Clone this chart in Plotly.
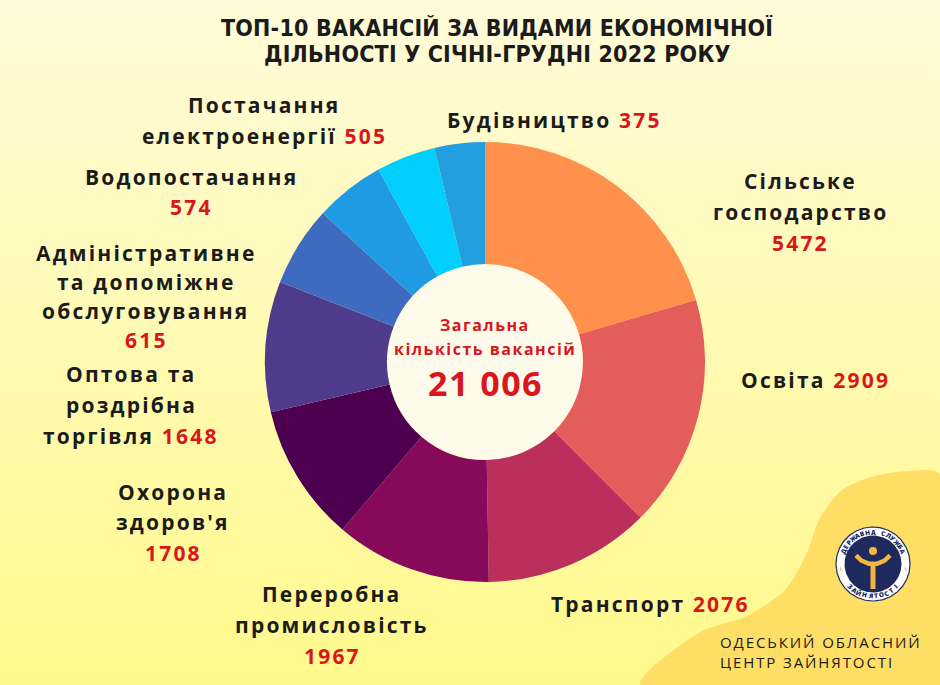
import numpy as np
import plotly.graph_objects as go

# ---------------- data ----------------
categories = [
    "Сільське господарство", "Освіта", "Транспорт", "Переробна промисловість",
    "Охорона здоров'я", "Оптова та роздрібна торгівля",
    "Адміністративне та допоміжне обслуговування", "Водопостачання",
    "Постачання електроенергії", "Будівництво",
]
vacancies = [5472, 2909, 2076, 1967, 1708, 1648, 615, 574, 505, 375]
# arc sizes of the slices as drawn in the picture (degrees)
slice_arcs = [73.6, 61.4, 44.0, 41.4, 36.4, 34.5, 21.2, 18.5, 15.7, 13.3]
label_lines = [
    ["Сільське", "господарство", "{v}"],
    ["Освіта {v}"],
    ["Транспорт {v}"],
    ["Переробна", "промисловість", "{v}"],
    ["Охорона", "здоров'я", "{v}"],
    ["Оптова та", "роздрібна", "торгівля {v}"],
    ["Адміністративне", "та допоміжне", "обслуговування", "{v}"],
    ["Водопостачання", "{v}"],
    ["Постачання", "електроенергії {v}"],
    ["Будівництво {v}"],
]
total_label = ["Загальна", "кількість вакансій"]
total_value = "21 006"
title_lines = ["ТОП-10 ВАКАНСІЙ ЗА ВИДАМИ ЕКОНОМІЧНОЇ", "ДІЛЬНОСТІ У СІЧНІ-ГРУДНІ 2022 РОКУ"]
org_lines = ["ОДЕСЬКИЙ ОБЛАСНИЙ", "ЦЕНТР ЗАЙНЯТОСТІ"]
logo_top = "ДЕРЖАВНА СЛУЖБА"
logo_bottom = "ЗАЙНЯТОСТІ"

# ---------------- style / layout ----------------
W, H = 940, 685
CX, CY, R = 485, 362, 220
HOLE_R = 98
slice_colors = ["#FF914D", "#E35D5B", "#BA2F5C", "#870A5A", "#4C004F",
                "#4E3B8B", "#3E6BC0", "#1F9BE3", "#00CFFE", "#229FDF"]
RED = "#D8161C"
INK = "#1B1B1B"
NAVY = "#1E2A5E"
GOLD = "#F4B63F"
LABEL_FONT = "Open Sans"
TITLE_FONT = "Liberation Sans Narrow, DejaVu Sans Condensed, Arial Narrow"
# (x centre, y of first line, line pitch) per label
label_pos = [
    (800, 180, 31), (815, 380, 30), (650, 604, 30), (332, 593, 31),
    (173, 492, 30.5), (131, 373, 31), (146, 252, 29), (191, 177, 30),
    (264, 104, 31), (554, 120, 30),
]

fig = go.Figure()

# background gradient
fig.add_trace(go.Scatter(
    x=[0, W, W, 0, 0], y=[0, 0, H, H, 0], mode="lines", fill="toself",
    line=dict(width=0), hoverinfo="skip", showlegend=False,
    fillgradient=dict(type="vertical", colorscale=[[0, "#FFF98C"], [1, "#FFFBD9"]]),
))
# decorative blob bottom-right
bx = [640, 700, 745, 785, 806, 820, 842, 875, 910, 940, 940, 640]
by = [685, 632, 617, 590, 555, 518, 490, 476, 471, 474, 685, 685]
fig.add_trace(go.Scatter(
    x=bx, y=by, mode="lines", fill="toself", line=dict(width=0, shape="spline", smoothing=0.8),
    fillcolor="#FFDE66", hoverinfo="skip", showlegend=False,
))
# centre disc
t = np.linspace(0, 2 * np.pi, 200)
fig.add_trace(go.Scatter(
    x=CX + HOLE_R * np.cos(t), y=CY + HOLE_R * np.sin(t), mode="lines", fill="toself",
    line=dict(width=0), fillcolor="#FFFBEA", hoverinfo="skip", showlegend=False,
))

# logo
LX, LY = 873, 564
def circ(r, color, line=None):
    fig.add_trace(go.Scatter(
        x=LX + r * np.cos(t), y=LY + r * np.sin(t), mode="lines", fill="toself",
        line=dict(width=1.2 if line else 0, color=line or color), fillcolor=color,
        hoverinfo="skip", showlegend=False,
    ))
circ(37, "#FFFFFF", NAVY)
circ(28.5, NAVY)
arm = np.linspace(-np.pi * 0.8, -np.pi * 0.2, 40)
fig.add_trace(go.Scatter(
    x=LX + 21 * np.cos(arm), y=LY - 21 - 21 * np.sin(arm), mode="lines",
    line=dict(width=4.5, color=GOLD), hoverinfo="skip", showlegend=False,
))
fig.add_trace(go.Scatter(
    x=[LX, LX], y=[LY - 2, LY + 25], mode="lines",
    line=dict(width=5, color=GOLD), hoverinfo="skip", showlegend=False,
))
fig.add_trace(go.Scatter(
    x=[LX], y=[LY - 13], mode="markers",
    marker=dict(size=8, color=GOLD), hoverinfo="skip", showlegend=False,
))
fig.add_trace(go.Scatter(
    x=[LX - 32.5, LX + 32.5], y=[LY + 5, LY + 5], mode="markers",
    marker=dict(size=[5, 5], color=GOLD, symbol="diamond-tall"), hoverinfo="skip", showlegend=False,
))

# pie
fig.add_trace(go.Pie(
    values=slice_arcs, labels=categories, customdata=vacancies,
    marker=dict(colors=slice_colors, line=dict(width=0)),
    hole=HOLE_R / R, sort=False, direction="clockwise", rotation=0,
    textinfo="none", hovertemplate="%{label}: %{customdata}<extra></extra>",
    domain=dict(x=[(CX - R) / W, (CX + R) / W], y=[(H - CY - R) / H, (H - CY + R) / H]),
    showlegend=False,
))

ann = []
def txt(x, y, s, size, color=INK, family=LABEL_FONT, weight=700, ls=1.6, h=None, xanchor="center"):
    d = dict(
        x=x, y=y, xref="x", yref="y", xanchor=xanchor, yanchor="middle",
        text=f"<span style='letter-spacing:{ls}px'>{s}</span>", showarrow=False,
        font=dict(family=family, size=size, color=color, weight=weight),
    )
    if h:
        d["height"] = h
    ann.append(d)

for lines, v, (x, y0, pitch) in zip(label_lines, vacancies, label_pos):
    for i, line in enumerate(lines):
        s = line.replace("{v}", f"<span style='color:{RED}'>{v}</span>")
        txt(x, y0 + i * pitch, s, 21, ls=2.2, h=pitch - 2)

txt(CX, 325, total_label[0], 16, color=RED, ls=1.5, h=22)
txt(CX, 349, total_label[1], 16, color=RED, ls=1.5, h=22)
txt(CX, 383, total_value, 34, color=RED, ls=1.5)

txt(497, 27, title_lines[0], 23, family=TITLE_FONT, ls=0.2, h=25)
txt(497, 53.5, title_lines[1], 23, family=TITLE_FONT, ls=0.2, h=25)

txt(718, 641, org_lines[0], 15, family="Open Sans", weight=400, ls=1.9, h=19, xanchor="left")
txt(718, 661, org_lines[1], 15, family="Open Sans", weight=400, ls=1.9, h=19, xanchor="left")

# logo ring text
rr = 32
n = len(logo_top)
for i, ch in enumerate(logo_top):
    th = -67 + 134 * i / (n - 1)
    a = np.radians(th)
    ann.append(dict(x=LX + rr * np.sin(a), y=LY - rr * np.cos(a), xref="x", yref="y",
                    text=ch, showarrow=False, textangle=th,
                    font=dict(family="Open Sans", size=6.5, color=NAVY, weight=800)))
n = len(logo_bottom)
for i, ch in enumerate(logo_bottom):
    th = 225 - 90 * i / (n - 1)
    a = np.radians(th)
    ann.append(dict(x=LX + rr * np.sin(a), y=LY - rr * np.cos(a), xref="x", yref="y",
                    text=ch, showarrow=False, textangle=th - 180,
                    font=dict(family="Open Sans", size=6.5, color=NAVY, weight=800)))

fig.update_layout(
    width=W, height=H, margin=dict(l=0, r=0, t=0, b=0),
    paper_bgcolor="#FFFBD0", plot_bgcolor="rgba(0,0,0,0)",
    xaxis=dict(range=[0, W], visible=False, fixedrange=True, domain=[0, 1]),
    yaxis=dict(range=[H, 0], visible=False, fixedrange=True, domain=[0, 1]),
    annotations=ann, showlegend=False,
)
fig.write_html("out.html", config={"displayModeBar": False},
               post_script="document.body.style.margin='0';document.body.style.overflow='hidden';")
